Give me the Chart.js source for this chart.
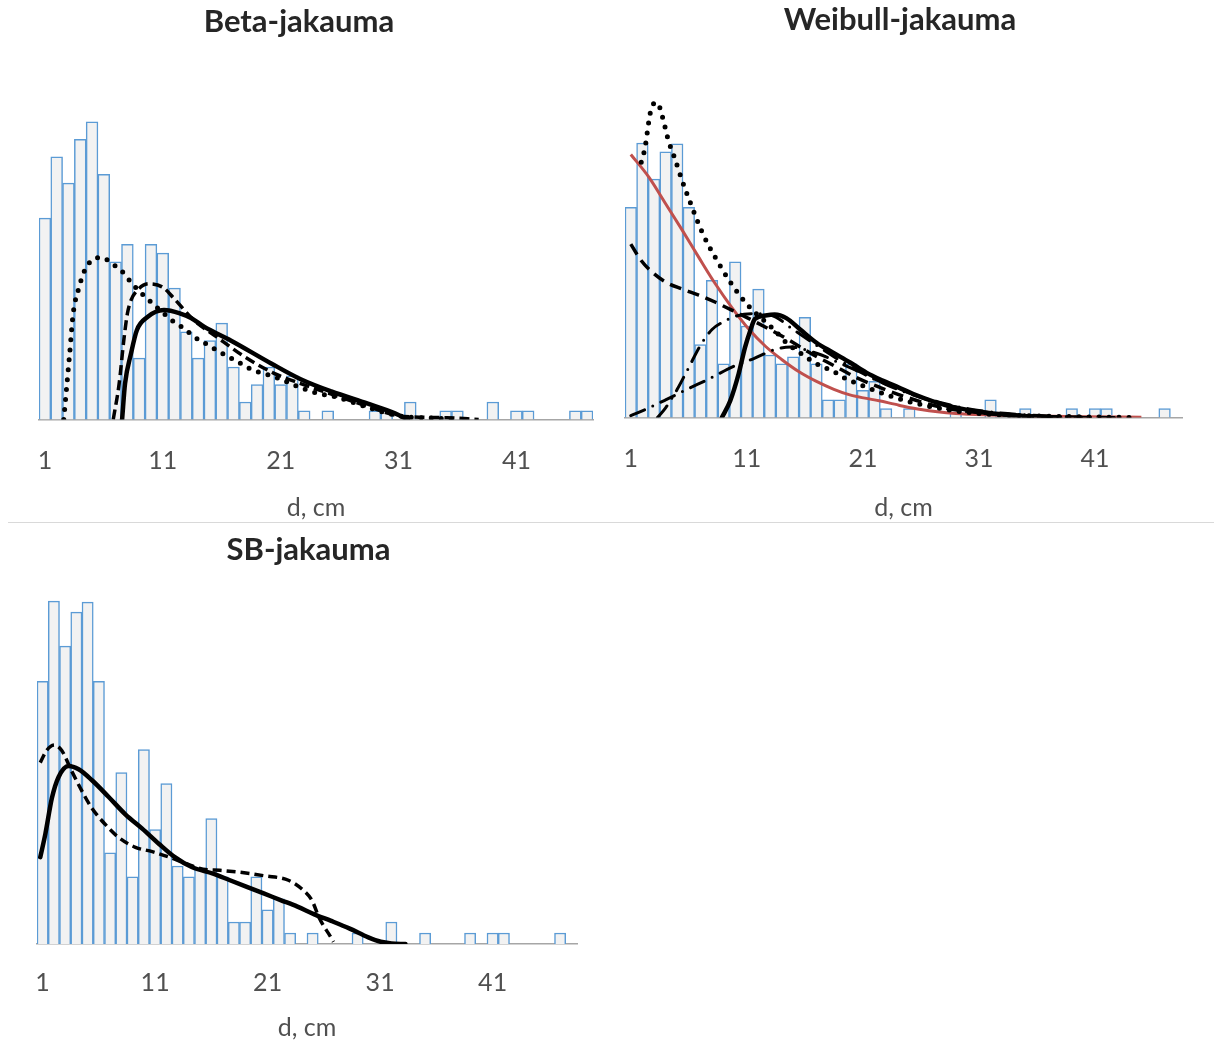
<!DOCTYPE html>
<html>
<head>
<meta charset="utf-8">
<script src="https://cdn.jsdelivr.net/npm/chart.js@4.4.1/dist/chart.umd.min.js"></script>
<style>
  body { margin: 0; background: #fff; width: 1214px; height: 1040px; position: relative; overflow: hidden; }
  canvas { position: absolute; }
  #rule { position: absolute; left: 8px; top: 522px; width: 1206px; height: 1px; background: #d9d9d9; }
</style>
</head>
<body>
<canvas id="beta" width="598" height="520" style="left:0;top:0"></canvas>
<canvas id="weibull" width="610" height="520" style="left:595px;top:0"></canvas>
<div id="rule"></div>
<canvas id="sb" width="617" height="518" style="left:0;top:522px"></canvas>
<script>
// diameter classes (cm) and tick labels
const diameterClasses = [1, 2, 3, 4, 5, 6, 7, 8, 9, 10, 11, 12, 13, 14, 15, 16, 17, 18, 19, 20, 21, 22, 23, 24,
  25, 26, 27, 28, 29, 30, 31, 32, 33, 34, 35, 36, 37, 38, 39, 40, 41, 42, 43, 44, 45, 46, 47, 48];
const xTickValues = [1, 11, 21, 31, 41];

// observed histograms
const betaCounts = [23, 30, 27, 32, 34, 28, 18, 20, 7, 20, 19, 15, 10, 7, 9, 11, 6, 2, 4, 6,
  4, 5, 1, 0, 1, 0, 0, 0, 1, 1, 0, 2, 0, 0, 1, 1, 0, 0, 2, 0, 1, 1, 0, 0, 0, 1, 1];
const weibullSbCounts = [23.9, 31.2, 27.1, 30.2, 31.1, 23.9, 8.3, 15.6, 6.1, 17.7, 10.4, 14.6, 7.1, 6.1, 6.9, 11.4,
  6.1, 2, 2, 6.1, 3.1, 4.1, 1, 0, 1, 0, 0, 0, 1, 0, 0, 2, 0, 0, 1, 0, 0, 0, 1, 0, 1, 1, 0, 0, 0, 0, 1, 0];

// fitted curves [d, value]
const betaDotted = [[2.6, 0], [2.8, 3.0], [3.1, 7.5], [3.4, 12.1], [3.9, 15.1], [4.3, 16.8], [4.9, 18.1], [5.8, 18.5],
  [6.7, 17.8], [7.7, 16.7], [8.4, 15.5], [9.2, 14.4], [10.1, 13.3], [11.8, 11.3], [12.8, 10.4], [13.6, 9.5],
  [14.6, 8.7], [15.6, 7.9], [16.8, 7.0], [17.6, 6.4], [18.7, 5.6], [19.7, 5.2], [20.8, 4.7], [22.4, 3.8],
  [24.1, 3.0], [25.6, 2.6], [28.4, 1.4], [30.7, 0.5], [32.1, 0.25], [34.1, 0.15], [36.1, 0]];
const betaDashed = [[6.8, 0], [7.3, 4.1], [7.7, 9.1], [8.0, 12.1], [8.3, 13.6], [8.8, 14.7], [9.8, 15.5], [11.0, 15.1],
  [11.9, 13.9], [13.6, 11.4], [15.6, 9.4], [17.9, 7.2], [20.4, 5.3], [22.7, 4.1], [25.3, 2.9], [28.4, 1.5],
  [30.7, 0.5], [32.1, 0.3], [35.1, 0.2], [37.8, 0]];
const betaSolid = [[7.55, 0], [7.8, 4.1], [8.3, 7.5], [8.8, 10.2], [9.7, 11.7], [11.1, 12.5], [12.5, 12.1], [13.4, 11.6],
  [14.5, 10.6], [16.8, 9.0], [20.2, 6.4], [22.7, 4.6], [25.3, 3.2], [28.4, 1.8], [30.7, 0.7], [31.8, 0]];

const weibullDotted = [[1.9, 29.0], [2.23, 30.7], [2.57, 33.8], [2.8, 35.3], [3.28, 35.8], [3.7, 34.3], [4.28, 31.3],
  [4.7, 29.8], [5.43, 26.9], [6.28, 23.9], [7.2, 20.9], [8.28, 18.2], [9.57, 15.4], [11, 12.9], [13.4, 9.9],
  [14.4, 8.5], [15.3, 7.6], [16.3, 6.7], [17.3, 5.9], [18.4, 5.3], [19.4, 4.5], [21, 3.6], [23, 2.6], [25, 1.8],
  [28, 0.95], [31, 0.45], [35, 0.2], [40, 0.08], [44, 0]];
const weibullDashed = [[1, 19.7], [1.86, 17.9], [2.86, 16.5], [4.0, 15.4], [5.43, 14.6], [6.86, 13.9], [8.3, 13.1],
  [9.7, 12.2], [11.1, 11.3], [12.7, 10.2], [14.5, 8.9], [16.5, 7.3], [18.5, 5.9], [20.5, 4.5], [22.5, 3.4],
  [25, 2.2], [28, 1.1], [31, 0.55], [34, 0.23], [38, 0.05]];
const weibullDashDotA = [[3.3, 0], [4.0, 1.1], [5.0, 3.2], [6.0, 5.7], [7.0, 8.2], [8.0, 10.0], [9.0, 10.9], [10, 11.5],
  [11.4, 11.8], [12.5, 11.8], [13.5, 11.4], [15, 10.0], [17, 8.2], [19, 6.5], [21, 5.0], [23, 3.75], [25, 2.7],
  [28, 1.5], [31, 0.7], [34, 0.3], [38, 0.06], [42, 0]];
const weibullDashDotB = [[1, 0.2], [2.4, 1.0], [4, 2.0], [6, 3.3], [7.6, 4.3], [10, 5.9], [11.6, 6.7], [13.6, 7.8],
  [14.8, 8.0], [17, 7.3], [19, 6.2], [21, 5.0], [23, 3.8], [25, 2.8], [28, 1.6], [31, 0.8], [35, 0.3], [40, 0.05], [43, 0]];
const weibullSolid = [[8.85, 0], [9.57, 1.9], [10.3, 5.0], [10.85, 8.0], [11.3, 9.9], [11.7, 11.2], [12.6, 11.6],
  [13.4, 11.7], [14.4, 11.3], [15.6, 10.0], [17, 8.5], [18.4, 7.4], [19.9, 6.25], [21.3, 5.1], [22.7, 4.2],
  [24.1, 3.4], [25.3, 2.7], [28.1, 1.4], [31, 0.65], [33.8, 0.26], [36, 0.1], [38, 0]];
const weibullRed = [[1.0, 29.9], [2.57, 27.3], [4.0, 24.3], [5.43, 21.3], [6.86, 18.2], [8.28, 15.2], [9.71, 12.5],
  [11.2, 10.0], [12.6, 8.1], [14.0, 6.6], [15.5, 5.2], [17, 4.1], [18.5, 3.2], [19.8, 2.6], [22.4, 1.9],
  [24.1, 1.4], [26, 0.9], [29, 0.45], [32, 0.28], [36, 0.17], [40, 0.09], [45, 0.03]];

const sbDashed = [[0.79, 16.5], [1.35, 17.6], [2.05, 18.1], [2.7, 17.6], [3.55, 15.8], [4.45, 14.0], [5.35, 12.4],
  [6.55, 10.9], [7.75, 9.7], [9.25, 8.8], [10.75, 8.4], [12.25, 7.9], [13.75, 7.3], [15.25, 6.8], [16.75, 6.7],
  [18.75, 6.5], [20.75, 6.2], [22.85, 5.8], [24.05, 5.0], [24.95, 3.95], [25.55, 2.45], [26.0, 1.6], [26.45, 0.9], [26.85, 0.2]];
const sbSolid = [[0.79, 7.9], [1.24, 10.0], [1.83, 13.3], [2.42, 15.2], [3.31, 16.2], [4.2, 15.9], [5.39, 14.9],
  [6.85, 13.4], [8.35, 11.8], [9.85, 10.5], [11.35, 9.1], [12.75, 7.9], [14.25, 7.0], [16.15, 6.4], [17.65, 5.8],
  [19.15, 5.2], [20.65, 4.6], [22.15, 4.0], [23.65, 3.4], [25.15, 2.7], [26.65, 2.1], [28.3, 1.4], [29.95, 0.6],
  [31.05, 0.2], [32, 0.05], [33.25, 0]];

const pts = arr => arr.map(([x, y]) => ({ x, y }));

const solid = (data) => ({ data, borderColor: '#000', borderWidth: 4.5, borderCapStyle: 'round' });
const dotted = (data) => ({ data, borderColor: '#000', borderWidth: 5, borderDash: [0, 10], borderCapStyle: 'round' });
const dashed = (data, dash) => ({ data, borderColor: '#000', borderWidth: 3.5, borderDash: dash, borderCapStyle: 'butt' });
const dashDot = (data) => ({ data, borderColor: '#000', borderWidth: 3, borderDash: [15, 9, 0, 9], borderCapStyle: 'round' });

function histogram(id, o) {
  const lines = o.lines.map(l => Object.assign({
    type: 'line', pointRadius: 0, fill: false, cubicInterpolationMode: 'monotone'
  }, l, { data: pts(l.data) }));
  const bars = {
    type: 'bar',
    data: o.counts.map((v, i) => ({ x: diameterClasses[i], y: v })),
    backgroundColor: '#f2f2f2',
    borderColor: '#5b9bd5',
    borderWidth: 1.5,
    barPercentage: 1,
    categoryPercentage: 1
  };
  return new Chart(document.getElementById(id), {
    type: 'bar',
    data: { datasets: lines.concat([bars]) },
    options: {
      responsive: false,
      animation: false,
      layout: { padding: 0 },
      plugins: {
        legend: { display: false },
        tooltip: { enabled: false },
        title: {
          display: true,
          text: o.title,
          color: '#262626',
          font: { family: 'Lato', size: 31, weight: 'bold' },
          padding: { top: o.titleTop, bottom: 5 }
        }
      },
      scales: {
        x: {
          type: 'linear',
          min: 0.5,
          max: o.xMax,
          offset: false,
          grid: { display: false, drawTicks: false },
          border: { display: true, color: '#a6a6a6', width: 1.5 },
          ticks: { color: '#505050', font: { family: 'Lato', size: 25 }, padding: o.tickPad, maxRotation: 0, autoSkip: false },
          afterBuildTicks: s => { s.ticks = xTickValues.map(v => ({ value: v })); },
          afterFit: s => { s.height = o.axisHeight; },
          title: {
            display: true, text: 'd, cm', color: '#505050',
            font: { family: 'Lato', size: 25, lineHeight: 1 },
            padding: { top: 0, bottom: 0 }
          }
        },
        y: {
          min: 0, max: o.yMax,
          ticks: { display: false }, grid: { display: false }, border: { display: false },
          afterFit: s => { s.width = o.left; }
        },
        yRight: {
          position: 'right', min: 0, max: 1,
          ticks: { display: false }, grid: { display: false }, border: { display: false },
          afterFit: s => { s.width = o.right; }
        }
      }
    }
  });
}

histogram('beta', {
  title: 'Beta-jakauma', counts: betaCounts, xMax: 47.5, yMax: 42.7,
  left: 39, right: 5, titleTop: 3.4, tickPad: 26, axisHeight: 100.5,
  lines: [solid(betaSolid), dashed(betaDashed, [10, 5]), dotted(betaDotted)]
});

histogram('weibull', {
  title: 'Weibull-jakauma', counts: weibullSbCounts, xMax: 48.5, yMax: 42.5,
  left: 30, right: 23, titleTop: 1.4, tickPad: 26, axisHeight: 102.5,
  lines: [solid(weibullSolid), dashDot(weibullDashDotA), dashDot(weibullDashDotB),
    dashed(weibullDashed, [12, 7]), dotted(weibullDotted),
    { data: weibullRed, borderColor: '#c0504d', borderWidth: 3 }]
});

histogram('sb', {
  title: 'SB-jakauma', counts: weibullSbCounts, xMax: 48.5, yMax: 33.7,
  left: 37, right: 40, titleTop: 9.4, tickPad: 24, axisHeight: 96,
  lines: [solid(sbSolid), dashed(sbDashed, [9, 5])]
});
</script>
</body>
</html>
